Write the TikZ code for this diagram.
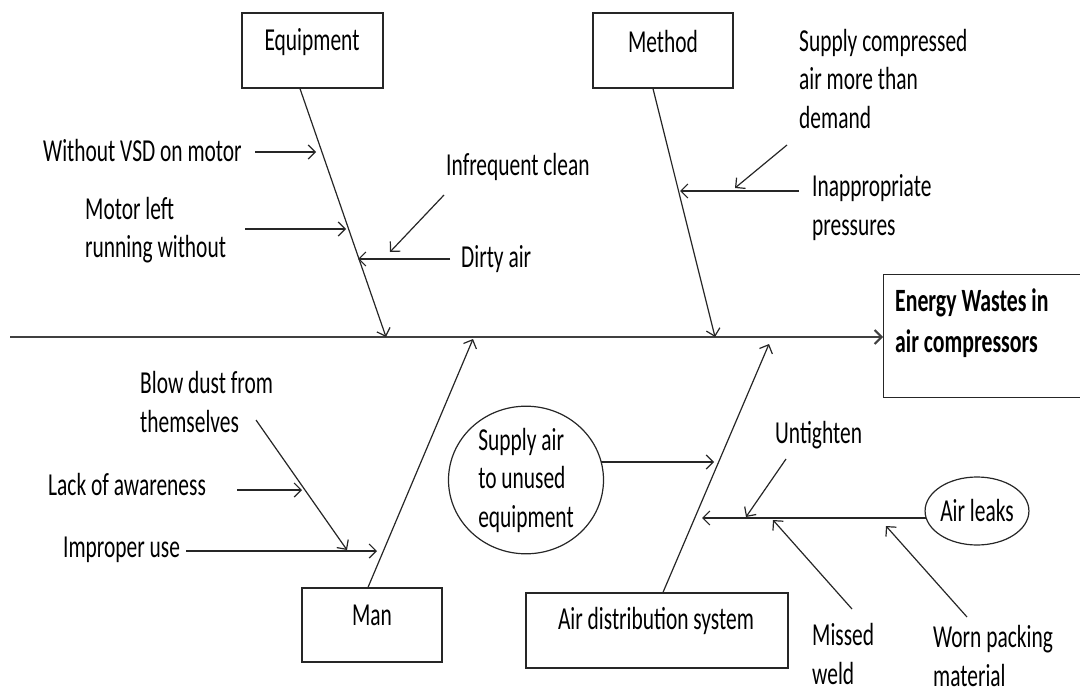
\documentclass[tikz,border=0pt]{standalone}
\usepackage{fontspec}
\setmainfont{Carlito}[FakeStretch=0.67]
\usetikzlibrary{arrows.meta,shapes.geometric}

\begin{document}
\begin{tikzpicture}[x=1pt,y=-1pt,
  lbl/.style={inner sep=0pt, align=left, font=\fontsize{32}{38.5}\selectfont, anchor=west},
  catbox/.style={draw=black!85, line width=1.3pt, inner sep=0pt, fill=white},
  cause/.style={draw=black!85, line width=1.2pt, -{Straight Barb[length=7pt,width=14pt]}},
  spine/.style={draw=black!75, line width=2pt, -{Straight Barb[length=7pt,width=14pt]}},
  bubble/.style={ellipse, draw=black!85, line width=1.2pt, inner sep=0pt}]

\useasboundingbox (0,0) rectangle (1080,693);

% effect box and spine
\node[catbox, minimum width=215pt, minimum height=123pt, anchor=west] (eff) at (883,336) {};
\node[lbl, font=\fontsize{32.5}{41}\selectfont\bfseries] (efft) at (895,323.5) {Energy Wastes in\\air compressors};
\coordinate (sL) at (10,337);
\draw[spine] (sL) -- (eff.west |- sL);

% category boxes
\node[catbox, minimum width=141pt, minimum height=75pt] (eq) at (312.5,50.5) {};
\node[lbl, anchor=center] (eqt) at (312,42) {Equipment};
\node[catbox, minimum width=140pt, minimum height=75pt] (me) at (663,50.5) {};
\node[lbl, anchor=center] (met) at (663,42) {Method};
\node[catbox, minimum width=140pt, minimum height=74pt] (man) at (372,625) {};
\node[lbl, anchor=center] (mant) at (372,615) {Man};
\node[catbox, minimum width=262pt, minimum height=75pt] (ads) at (657,630.5) {};
\node[lbl, anchor=center] (adst) at (656,621) {Air distribution system};

% main bones
\coordinate (eqT) at (386,337);
\coordinate (meT) at (715,337);
\coordinate (manT) at (473,339);
\coordinate (adsT) at (769,344);
\draw[cause] ([xshift=-12.5pt]eq.south) -- (eqT);
\draw[cause] ([xshift=-10pt]me.south) -- (meT);
\draw[cause] ([xshift=-4pt]man.north) -- (manT);
\draw[cause] ([xshift=6pt]ads.north) -- (adsT);

% equipment causes
\node[lbl] (c1) at (43,151) {Without VSD on motor};
\coordinate (c1s) at (255,152); \coordinate (c1t) at (316,152);
\draw[cause] (c1s) -- (c1t);
\node[lbl] (c2) at (85,230) {Motor left\\running without};
\coordinate (c2s) at (245,229); \coordinate (c2t) at (346,229);
\draw[cause] (c2s) -- (c2t);
\node[lbl] (c3) at (461,259) {Dirty air};
\coordinate (c3s) at (450,259); \coordinate (c3t) at (358,259);
\draw[cause] (c3s) -- (c3t);
\node[lbl] (c4) at (446,167) {Infrequent clean};
\coordinate (c4s) at (444,195); \coordinate (c4t) at (390,252);
\draw[cause] (c4s) -- (c4t);

% method causes
\node[lbl] (c5) at (799,79) {Supply compressed\\air more than\\demand};
\coordinate (c5s) at (787,145); \coordinate (c5t) at (735,188);
\draw[cause] (c5s) -- (c5t);
\node[lbl] (c6) at (812,207.5) {Inappropriate\\pressures};
\coordinate (c6s) at (799,191); \coordinate (c6t) at (680,191);
\draw[cause] (c6s) -- (c6t);

% man causes
\node[lbl] (c7) at (140,402) {Blow dust from\\themselves};
\coordinate (c7s) at (256,420); \coordinate (c7t) at (347,550);
\draw[cause] (c7s) -- (c7t);
\node[lbl] (c8) at (48,485) {Lack of awareness};
\coordinate (c8s) at (237,490); \coordinate (c8t) at (302,490);
\draw[cause] (c8s) -- (c8t);
\node[lbl] (c9) at (63,550) {Improper use};
\coordinate (c9s) at (186,551); \coordinate (c9t) at (377,551);
\draw[cause] (c9s) -- (c9t);

% air distribution causes
\node[bubble, lbl, anchor=center, minimum width=155pt, minimum height=141pt] (su) at (526,480) {Supply air\\to unused\\equipment};
\coordinate (suT) at (714,462);
\draw[cause] (su.15 |- suT) -- (suT);
\node[bubble, lbl, anchor=center, minimum width=93pt, minimum height=68pt] (al) at (977,511) {Air leaks};
\coordinate (alT) at (702,518);
\draw[cause] (al.190 |- alT) -- (alT);
\node[lbl] (c10) at (775,435) {Untighten};
\coordinate (c10s) at (786,459); \coordinate (c10t) at (746,517);
\draw[cause] (c10s) -- (c10t);
\node[lbl] (c11) at (812,654) {Missed\\weld};
\coordinate (c11s) at (852,609); \coordinate (c11t) at (773,520);
\draw[cause] (c11s) -- (c11t);
\node[lbl] (c12) at (933,656) {Worn packing\\material};
\coordinate (c12s) at (967,617); \coordinate (c12t) at (886,526);
\draw[cause] (c12s) -- (c12t);
\end{tikzpicture}
\end{document}
